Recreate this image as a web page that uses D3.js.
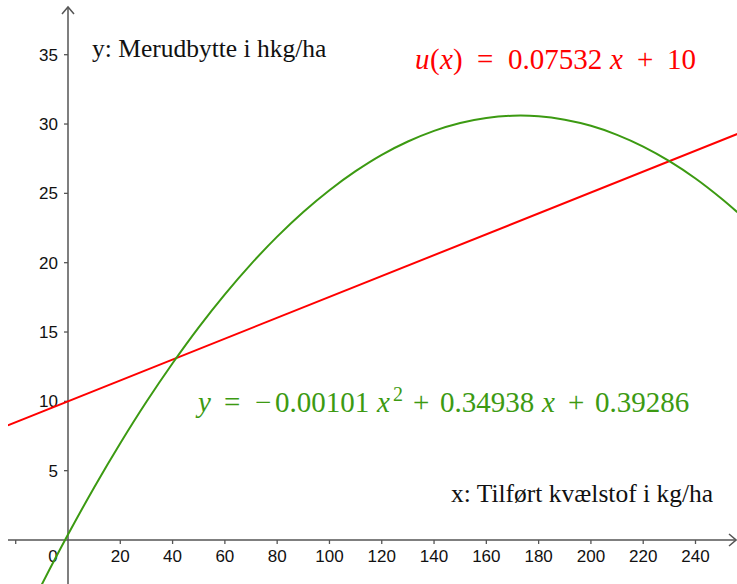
<!DOCTYPE html>
<html lang="en">
<head>
    <meta charset="UTF-8">
    <title>Merudbytte og kvælstof</title>
    <script src="https://d3js.org/d3.v7.min.js"></script>
    <style>
        body { margin: 0; padding: 0; background: #fff; }
        svg { display: block; }
        .tick-label { font-family: Arial, 'Liberation Sans', sans-serif; font-size: 17px; fill: #111; }
        .axis-title { font-family: 'Liberation Serif', 'Times New Roman', serif; font-size: 25.5px; fill: #111; }
        .formula { font-family: 'Liberation Serif', 'Times New Roman', serif; font-size: 29px; }
    </style>
</head>
<body>
<div id="chart"></div>
<script>
    // data
    const xTicks = [-20, 20, 40, 60, 80, 100, 120, 140, 160, 180, 200, 220, 240];
    const yTicks = [5, 10, 15, 20, 25, 30, 35];

    // green parabola, sampled off the chart
    const curveX = [-12, -10, 0, 10, 20, 30, 40, 50, 60, 70, 80, 90, 100, 110, 120, 130,
                    140, 150, 160, 170, 180, 190, 200, 210, 220, 230, 240, 250, 256];
    const curveY = [-3.95, -3.20, 0.39, 3.79, 6.98, 9.97, 12.75, 15.34, 17.72, 19.90, 21.88, 23.66, 25.23, 26.60, 27.78, 28.74,
                    29.51, 30.08, 30.44, 30.60, 30.56, 30.31, 29.87, 29.22, 28.37, 27.32, 26.07, 24.61, 23.64];

    // red line u(x)
    const lineX = [-23, 256];
    const lineY = [8.27, 29.28];

    const W = 737, H = 584;
    const x = d3.scaleLinear().domain([0, 240]).range([68, 695.5]);
    const y = d3.scaleLinear().domain([0, 35]).range([540, 54.7]);

    const svg = d3.select("#chart").append("svg")
        .attr("width", W)
        .attr("height", H);

    svg.append("defs").append("clipPath").attr("id", "plot")
        .append("rect").attr("x", 8).attr("y", 0).attr("width", W - 8).attr("height", H);

    const axisColor = "#555";

    // x axis
    svg.append("line")
        .attr("x1", 8).attr("x2", 736)
        .attr("y1", y(0)).attr("y2", y(0))
        .attr("stroke", axisColor).attr("stroke-width", 1.5);
    svg.append("path")
        .attr("d", `M${729},${y(0) - 6} L${736},${y(0)} L${729},${y(0) + 6}`)
        .attr("fill", "none").attr("stroke", axisColor).attr("stroke-width", 1.5);

    // y axis
    svg.append("line")
        .attr("x1", x(0)).attr("x2", x(0))
        .attr("y1", 7).attr("y2", H)
        .attr("stroke", axisColor).attr("stroke-width", 1.5);
    svg.append("path")
        .attr("d", `M${x(0) - 6},${14} L${x(0)},${7} L${x(0) + 6},${14}`)
        .attr("fill", "none").attr("stroke", axisColor).attr("stroke-width", 1.5);

    // x ticks
    svg.selectAll(".xt").data(xTicks).enter().append("line")
        .attr("x1", d => x(d)).attr("x2", d => x(d))
        .attr("y1", y(0)).attr("y2", y(0) + 4)
        .attr("stroke", axisColor).attr("stroke-width", 1.3);
    svg.selectAll(".xl").data(xTicks.filter(d => d > 0)).enter().append("text")
        .attr("class", "tick-label")
        .attr("x", d => x(d)).attr("y", 562)
        .attr("text-anchor", "middle")
        .text(d => d);
    svg.append("text").attr("class", "tick-label")
        .attr("x", 53).attr("y", 562).attr("text-anchor", "middle").text("0");

    // y ticks
    svg.selectAll(".yt").data(yTicks).enter().append("line")
        .attr("x1", x(0) - 4).attr("x2", x(0))
        .attr("y1", d => y(d)).attr("y2", d => y(d))
        .attr("stroke", axisColor).attr("stroke-width", 1.3);
    svg.selectAll(".yl").data(yTicks).enter().append("text")
        .attr("class", "tick-label")
        .attr("x", 58).attr("y", d => y(d))
        .attr("dy", "0.36em")
        .attr("text-anchor", "end")
        .text(d => d);

    // curves
    const g = svg.append("g").attr("clip-path", "url(#plot)");
    const line = d3.line().x(d => x(d[0])).y(d => y(d[1]));

    g.append("path")
        .datum(lineX.map((v, i) => [v, lineY[i]]))
        .attr("fill", "none").attr("stroke", "#ff0000").attr("stroke-width", 2)
        .attr("d", line);

    g.append("path")
        .datum(curveX.map((v, i) => [v, curveY[i]]))
        .attr("fill", "none").attr("stroke", "#3c9a12").attr("stroke-width", 2)
        .attr("d", line.curve(d3.curveCatmullRom));

    // axis titles
    svg.append("text").attr("class", "axis-title")
        .attr("x", 92).attr("y", 57).text("y: Merudbytte i hkg/ha");
    svg.append("text").attr("class", "axis-title")
        .attr("x", 451).attr("y", 502).text("x: Tilført kvælstof i kg/ha");

    // formulas, pieces placed with math-like spacing
    function formula(py, color, parts) {
        const t = svg.append("text").attr("class", "formula")
            .attr("y", py).attr("fill", color);
        parts.forEach(p => {
            const s = t.append("tspan").attr("x", p.x).attr("y", py + (p.up ? -11 : 0)).text(p.t);
            if (p.it) s.attr("font-style", "italic");
            if (p.up) s.attr("font-size", "20px");
        });
    }

    formula(69, "#ff0000", [
        { x: 415, t: "u", it: true },
        { x: 430, t: "(" },
        { x: 440, t: "x", it: true },
        { x: 453, t: ")" },
        { x: 477, t: "=" },
        { x: 508, t: "0.07532" },
        { x: 610, t: "x", it: true },
        { x: 637, t: "+" },
        { x: 667, t: "10" }
    ]);

    formula(412, "#3c9a12", [
        { x: 198, t: "y", it: true },
        { x: 224, t: "=" },
        { x: 255, t: "\u2212" },
        { x: 275, t: "0.00101" },
        { x: 377, t: "x", it: true },
        { x: 393, t: "2", up: true },
        { x: 413, t: "+" },
        { x: 440, t: "0.34938" },
        { x: 542, t: "x", it: true },
        { x: 568, t: "+" },
        { x: 595, t: "0.39286" }
    ]);
</script>
</body>
</html>
